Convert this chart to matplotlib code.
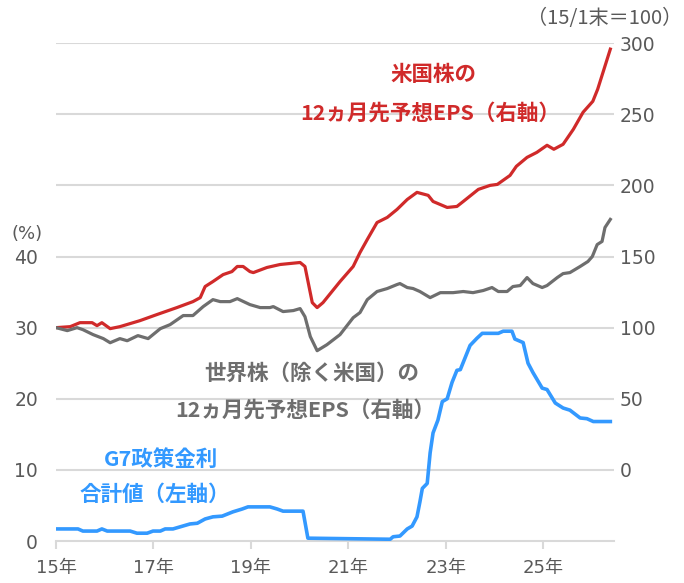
import matplotlib
matplotlib.use("Agg")
import matplotlib.pyplot as plt

plt.rcParams['font.family'] = ['Noto Sans CJK JP', 'DejaVu Sans']

# 米国株 12ヵ月先予想EPS (15/1末=100), right axis
us_t = [15.00, 15.29, 15.49, 15.74, 15.84, 15.94, 16.11, 16.31, 16.72, 17.07,
        17.48, 17.81, 17.96, 18.06, 18.22, 18.43, 18.61, 18.72, 18.84, 18.98,
        19.05, 19.33, 19.60, 20.01, 20.11, 20.26, 20.36, 20.48, 20.83, 21.10,
        21.24, 21.39, 21.59, 21.80, 22.00, 22.21, 22.41, 22.64, 22.74, 23.03,
        23.23, 23.36, 23.67, 23.91, 24.06, 24.32, 24.45, 24.67, 24.87, 25.08,
        25.22, 25.41, 25.62, 25.82, 26.02, 26.12, 26.38]
us_eps = [100.0, 100.7, 103.5, 103.5, 101.4, 103.5, 99.3, 100.7, 104.9, 109.2,
          114.1, 118.3, 121.1, 128.9, 132.4, 137.3, 139.4, 143.0, 143.0, 139.4,
          138.7, 142.3, 144.4, 145.8, 143.0, 117.6, 114.1, 117.6, 132.4, 143.0,
          152.8, 162.0, 173.9, 177.5, 183.1, 190.1, 195.1, 193.0, 188.7, 184.5,
          185.2, 188.7, 197.2, 200.0, 200.7, 207.0, 213.4, 219.7, 223.2, 228.2,
          225.4, 228.9, 239.4, 251.4, 259.1, 267.6, 295.8]

# 世界株（除く米国） 12ヵ月先予想EPS, right axis
world_t = [15.00, 15.23, 15.43, 15.55, 15.76, 15.97, 16.11, 16.31, 16.46, 16.68,
           16.89, 17.14, 17.34, 17.61, 17.81, 18.02, 18.22, 18.37, 18.57, 18.72,
           18.98, 19.19, 19.39, 19.46, 19.66, 19.87, 20.01, 20.11, 20.22, 20.36,
           20.56, 20.83, 21.10, 21.24, 21.39, 21.59, 21.80, 22.00, 22.06, 22.21,
           22.33, 22.47, 22.68, 22.89, 23.15, 23.36, 23.56, 23.77, 23.95, 24.08,
           24.26, 24.38, 24.53, 24.67, 24.79, 24.98, 25.08, 25.29, 25.41, 25.55,
           25.76, 25.92, 26.01, 26.11, 26.21, 26.27, 26.38]
world_eps = [100.0, 97.9, 100.0, 98.6, 95.1, 92.3, 89.4, 92.3, 90.8, 94.4,
             92.3, 99.3, 102.1, 108.5, 108.5, 114.8, 119.7, 118.3, 118.3, 120.4,
             116.2, 114.1, 114.1, 114.8, 111.3, 112.0, 113.4, 107.7, 93.7, 83.8,
             88.0, 95.1, 107.0, 110.6, 119.7, 125.4, 127.5, 130.3, 131.0, 128.2,
             127.5, 125.4, 121.1, 124.6, 124.6, 125.4, 124.6, 126.1, 128.2, 125.4,
             125.4, 128.9, 129.6, 135.2, 131.0, 128.2, 129.6, 135.2, 138.0, 138.7,
             143.0, 146.5, 150.0, 158.4, 160.6, 170.4, 176.1]

# G7政策金利 合計値 (%), left axis
g7_t = [15.00, 15.45, 15.55, 15.84, 15.94, 16.05, 16.52, 16.66, 16.87, 16.99,
        17.14, 17.24, 17.40, 17.55, 17.75, 17.90, 18.06, 18.22, 18.41, 18.63,
        18.82, 18.94, 19.39, 19.54, 19.66, 20.07, 20.17, 21.86, 21.92, 22.06,
        22.21, 22.31, 22.41, 22.47, 22.52, 22.62, 22.68, 22.74, 22.84, 22.93,
        23.03, 23.13, 23.23, 23.30, 23.50, 23.64, 23.75, 24.08, 24.18, 24.36,
        24.42, 24.59, 24.69, 24.79, 24.98, 25.08, 25.25, 25.41, 25.55, 25.76,
        25.90, 26.03, 26.38]
g7_rate = [1.7, 1.7, 1.4, 1.4, 1.7, 1.4, 1.4, 1.1, 1.1, 1.4,
           1.4, 1.7, 1.7, 2.0, 2.4, 2.5, 3.1, 3.4, 3.5, 4.1,
           4.5, 4.8, 4.8, 4.5, 4.2, 4.2, 0.4, 0.25, 0.6, 0.7,
           1.7, 2.1, 3.4, 5.5, 7.4, 8.1, 12.4, 15.2, 17.0, 19.6,
           20.0, 22.3, 24.0, 24.1, 27.5, 28.5, 29.2, 29.2, 29.5, 29.5,
           28.4, 27.9, 25.0, 23.7, 21.5, 21.3, 19.4, 18.7, 18.4, 17.3,
           17.2, 16.8, 16.8]

year_ticks = [15, 17, 19, 21, 23, 25]
year_labels = ['15年', '17年', '19年', '21年', '23年', '25年']
left_ticks = [0, 10, 20, 30, 40]
right_ticks = [0, 50, 100, 150, 200, 250, 300]

RED = '#d02a2a'
GRAY = '#6e6e6e'
BLUE = '#3399ff'
TXT = '#595959'
TICKFONT = ['DejaVu Sans', 'Noto Sans CJK JP']

fig = plt.figure(figsize=(6.84, 5.83), dpi=100)
ax = fig.add_axes([0.082, 0.072, 0.816, 0.854])
ax2 = ax.twinx()

ax.set_xlim(15, 26.46)
ax.set_ylim(0, 70)
ax2.set_ylim(-50, 300)

# gridlines follow the right axis ticks
for v in right_ticks:
    ax2.axhline(v, color='#d9d9d9', lw=1.5, zorder=0)

ax2.plot(us_t, us_eps, color=RED, lw=2.3, zorder=3)
ax2.plot(world_t, world_eps, color=GRAY, lw=2.3, zorder=3)
ax.plot(g7_t, g7_rate, color=BLUE, lw=2.6, zorder=3)
ax.set_zorder(ax2.get_zorder() + 1)
ax.patch.set_visible(False)

for a in (ax, ax2):
    for s in ['top', 'left', 'right']:
        a.spines[s].set_visible(False)
ax2.spines['bottom'].set_visible(False)
ax.spines['bottom'].set_color('#d9d9d9')
ax.spines['bottom'].set_linewidth(1.5)

ax.set_xticks(year_ticks)
ax.set_xticklabels(year_labels, family=TICKFONT)
ax.tick_params(axis='x', colors='#d9d9d9', width=1.5, length=6, labelcolor=TXT,
               labelsize=13, pad=7)
ax.set_yticks(left_ticks)
ax.set_yticklabels([str(v) for v in left_ticks], family=TICKFONT)
ax.tick_params(axis='y', length=0, labelcolor=TXT, labelsize=13.5, pad=13)
ax2.set_yticks(right_ticks)
ax2.set_yticklabels([str(v) for v in right_ticks], family=TICKFONT)
ax2.tick_params(axis='y', length=0, labelcolor=TXT, labelsize=13.5, pad=4)

fig.text(0.017, 0.59, '(%)', color=TXT, fontsize=13, family=TICKFONT)
fig.text(0.998, 0.958, '（15/1末＝100）', color=TXT, fontsize=14.5, ha='right')

ax2.text(22.74, 278, '米国株の', color=RED, fontsize=15.5, fontweight='bold', ha='center', va='center')
ax2.text(22.68, 251, '12ヵ月先予想EPS（右軸）', color=RED, fontsize=15.5, fontweight='bold', ha='center', va='center')
ax2.text(20.24, 68, '世界株（除く米国）の', color=GRAY, fontsize=15.5, fontweight='bold', ha='center', va='center')
ax2.text(20.11, 42, '12ヵ月先予想EPS（右軸）', color=GRAY, fontsize=15.5, fontweight='bold', ha='center', va='center')
ax.text(17.16, 11.4, 'G7政策金利', color=BLUE, fontsize=15.5, fontweight='bold', ha='center', va='center')
ax.text(17.03, 6.6, '合計値（左軸）', color=BLUE, fontsize=15.5, fontweight='bold', ha='center', va='center')

fig.savefig('out.png', dpi=100)
